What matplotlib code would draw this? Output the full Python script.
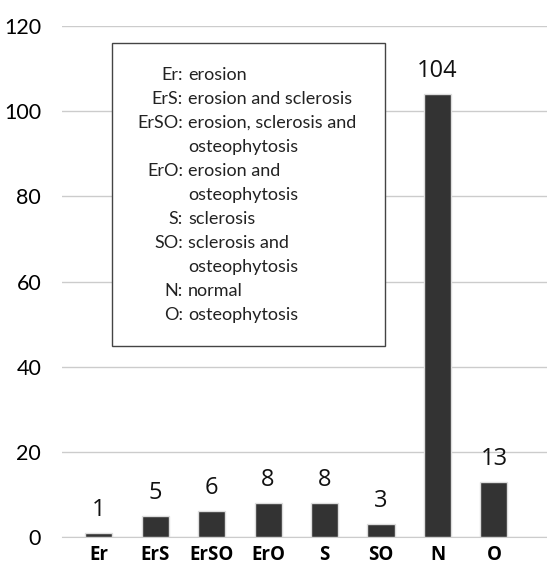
import matplotlib.pyplot as plt
from matplotlib.patches import Rectangle

categories = ["Er", "ErS", "ErSO", "ErO", "S", "SO", "N", "O"]
counts = [1, 5, 6, 8, 8, 3, 104, 13]
key_codes = ["Er:", "ErS:", "ErSO:", "", "ErO:", "", "S:", "SO:", "", "N:", "O:"]
key_texts = ["erosion", "erosion and sclerosis", "erosion, sclerosis and",
             "osteophytosis", "erosion and", "osteophytosis", "sclerosis",
             "sclerosis and", "osteophytosis", "normal", "osteophytosis"]
yticks = [0, 20, 40, 60, 80, 100, 120]

fig = plt.figure(figsize=(5.47, 5.68), dpi=100)
ax = fig.add_axes([62 / 547, 31 / 568, 1 - 62 / 547, 511 / 568])

x = range(len(categories))
ax.bar(x, counts, width=0.48, color="#333333", edgecolor="#dddddd", linewidth=1, zorder=3)
for xi, v in zip(x, counts):
    ax.annotate(str(v), (xi, v), xytext=(0, 8), textcoords="offset points",
                ha="center", va="bottom", fontsize=17, family="Open Sans",
                color="#111111")

ax.set_xlim(-0.65, 7.94)
ax.set_ylim(0, 120)
ax.set_yticks(yticks)
ax.set_yticklabels([str(t) for t in yticks], fontsize=15.5, family="Lato")
ax.set_xticks(list(x))
ax.set_xticklabels(categories, fontsize=13.5, fontweight="bold", family="Open Sans")
ax.yaxis.grid(True, color="#cccccc", linewidth=1, zorder=0)
ax.tick_params(axis="x", length=0, pad=6)
ax.tick_params(axis="y", length=0, pad=15)
for s in ["top", "right", "left"]:
    ax.spines[s].set_visible(False)
ax.spines["bottom"].set_color("#cccccc")

# legend box
box = Rectangle((112 / 547, (568 - 346) / 568), 273 / 547, 303 / 568,
                transform=fig.transFigure, facecolor="white", edgecolor="#444444",
                linewidth=1, zorder=5)
fig.patches.append(box)
y0 = 75
for i, (code, txt) in enumerate(zip(key_codes, key_texts)):
    yy = 1 - (y0 + i * 24) / 568
    if code:
        fig.text(183 / 547, yy, code, ha="right", va="center", fontsize=13,
                 family="Lato", color="#222222", zorder=6)
    fig.text(188 / 547, yy, txt, ha="left", va="center", fontsize=13,
             family="Lato", color="#222222", zorder=6)

fig.savefig("out.png", dpi=100)
